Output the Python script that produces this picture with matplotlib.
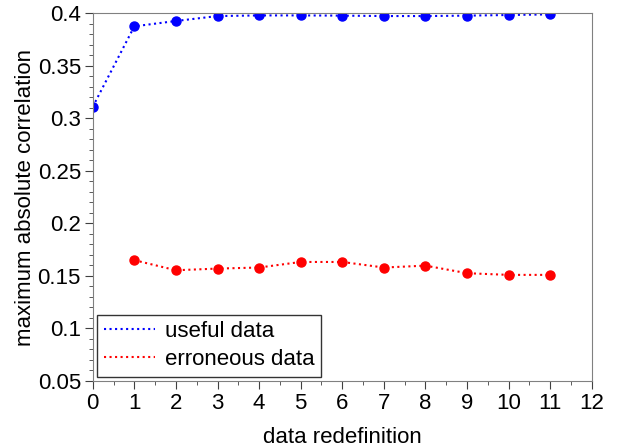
import matplotlib
matplotlib.use("Agg")
import matplotlib.pyplot as plt
from matplotlib.ticker import MultipleLocator, FuncFormatter

plt.rcParams["font.family"] = ["Liberation Sans", "DejaVu Sans"]

# data redefinition steps
redefinition = [0, 1, 2, 3, 4, 5, 6, 7, 8, 9, 10, 11]
useful = [0.311, 0.3876, 0.3927, 0.3974, 0.398, 0.398, 0.3978, 0.3974, 0.3974, 0.3978, 0.3984, 0.399]

redefinition_err = [1, 2, 3, 4, 5, 6, 7, 8, 9, 10, 11]
erroneous = [0.165, 0.1554, 0.157, 0.158, 0.1633, 0.1633, 0.158, 0.1598, 0.1526, 0.151, 0.151]

fs = 16

fig = plt.figure(figsize=(6.33, 4.47), dpi=100)
ax = fig.add_axes([0.1465, 0.1477, 0.7885, 0.8225])

ax.plot(redefinition, useful, color="#0000ff", linestyle=":", linewidth=1.5,
        marker="o", markersize=6.5, label="useful data")
ax.plot(redefinition_err, erroneous, color="#ff0000", linestyle=":", linewidth=1.5,
        marker="o", markersize=6.5, label="erroneous data")

ax.set_xlim(0, 12)
ax.set_ylim(0.05, 0.4)
ax.xaxis.set_major_locator(MultipleLocator(1))
ax.xaxis.set_minor_locator(MultipleLocator(0.5))
ax.yaxis.set_major_locator(MultipleLocator(0.05))
ax.yaxis.set_minor_locator(MultipleLocator(0.01))
ax.yaxis.set_major_formatter(FuncFormatter(lambda v, p: "%g" % round(v, 3)))

for s in ax.spines.values():
    s.set_color("#808080")
ax.tick_params(which="both", direction="out", top=False, right=False,
               color="#404040", labelsize=fs)
ax.tick_params(which="major", length=5.5, pad=3)
ax.tick_params(which="minor", length=2.8)

ax.set_xlabel("data redefinition", fontsize=fs, labelpad=9.5)
ax.set_ylabel("maximum absolute correlation", fontsize=fs, labelpad=1)

leg = ax.legend(loc="lower left", fontsize=fs, frameon=True, fancybox=False,
                edgecolor="black", handlelength=2.3, handletextpad=0.45,
                labelspacing=0.3, borderpad=0.3, borderaxespad=0.2)
leg.get_frame().set_linewidth(1.0)
for h in leg.get_lines():
    h.set_marker("")

fig.savefig("out.png", dpi=100, facecolor="white")
